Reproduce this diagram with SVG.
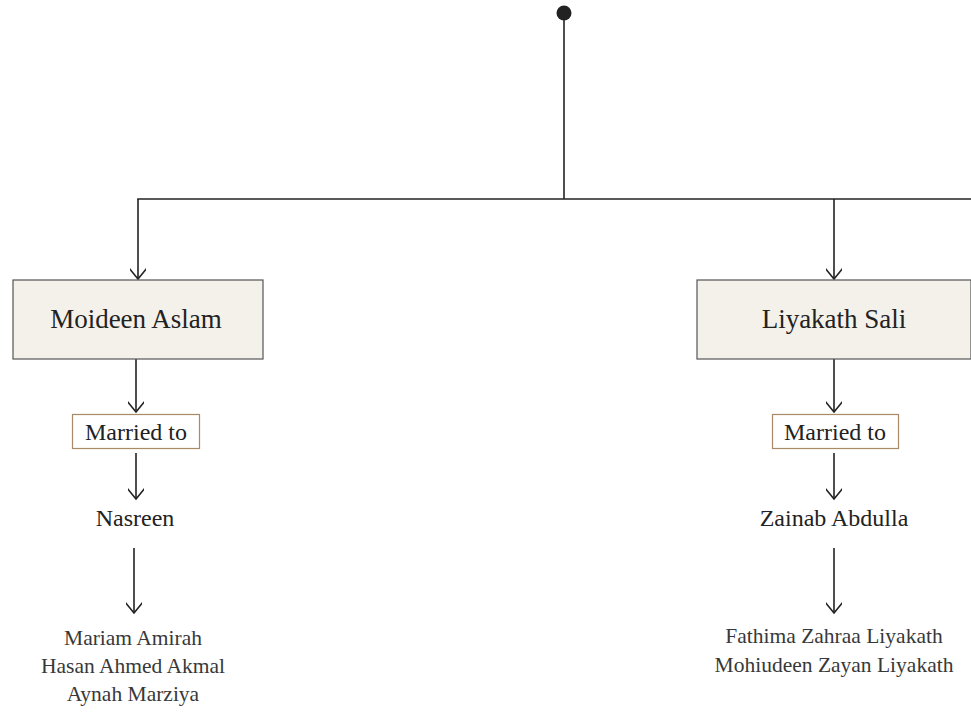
<svg xmlns="http://www.w3.org/2000/svg" width="971" height="712" viewBox="0 0 971 712">
<style>
.ln{stroke:#222;stroke-width:1.6;fill:none}
.box{fill:#f4f1eb;stroke:#555;stroke-width:1.2}
.mbox{fill:#fff;stroke:#a88a66;stroke-width:1.2}
text{font-family:"Liberation Serif",serif;text-anchor:middle;fill:#222}
.t1{font-size:27px}
.t2{font-size:24px}
.t3{font-size:21.5px;fill:#383838}
</style>
<defs>
<marker id="arr" viewBox="0 0 22 16" refX="20" refY="8" markerWidth="22" markerHeight="16" markerUnits="userSpaceOnUse" orient="auto">
<path d="M9,-1 L20,8 L9,17" fill="none" stroke="#222" stroke-width="1.6"/>
</marker>
</defs>
<g id="connectors">
<circle cx="564" cy="13" r="7.5" fill="#222"/>
<line class="ln" x1="564" y1="13" x2="564" y2="199"/>
<line class="ln" x1="137.2" y1="199" x2="971" y2="199"/>
<line class="ln" x1="138" y1="199" x2="138" y2="279" marker-end="url(#arr)"/>
<line class="ln" x1="834" y1="199" x2="834" y2="279" marker-end="url(#arr)"/>
<line class="ln" x1="136" y1="359" x2="136" y2="412" marker-end="url(#arr)"/>
<line class="ln" x1="136" y1="453" x2="136" y2="499" marker-end="url(#arr)"/>
<line class="ln" x1="134" y1="548" x2="134" y2="613" marker-end="url(#arr)"/>
<line class="ln" x1="834" y1="359" x2="834" y2="412" marker-end="url(#arr)"/>
<line class="ln" x1="834" y1="453" x2="834" y2="499" marker-end="url(#arr)"/>
<line class="ln" x1="834" y1="548" x2="834" y2="613" marker-end="url(#arr)"/>
</g>
<g id="moideen">
<rect class="box" x="13" y="280" width="250" height="79"/>
<text class="t1" x="136" y="328">Moideen Aslam</text>
</g>
<g id="liyakath">
<rect class="box" x="697" y="280" width="274" height="79"/>
<text class="t1" x="834" y="328">Liyakath Sali</text>
</g>
<g id="married-left">
<rect class="mbox" x="72.5" y="414.5" width="127" height="34"/>
<text class="t2" x="136" y="440">Married to</text>
</g>
<g id="married-right">
<rect class="mbox" x="772.5" y="414.5" width="126" height="34"/>
<text class="t2" x="835" y="440">Married to</text>
</g>
<g id="nasreen">
<text class="t2" x="135" y="526">Nasreen</text>
</g>
<g id="zainab">
<text class="t2" x="834" y="526">Zainab Abdulla</text>
</g>
<g id="children-left">
<text class="t3" x="133" y="645">Mariam Amirah</text>
<text class="t3" x="133" y="673">Hasan Ahmed Akmal</text>
<text class="t3" x="133" y="701">Aynah Marziya</text>
</g>
<g id="children-right">
<text class="t3" x="834" y="643">Fathima Zahraa Liyakath</text>
<text class="t3" x="834" y="672">Mohiudeen Zayan Liyakath</text>
</g>
</svg>
